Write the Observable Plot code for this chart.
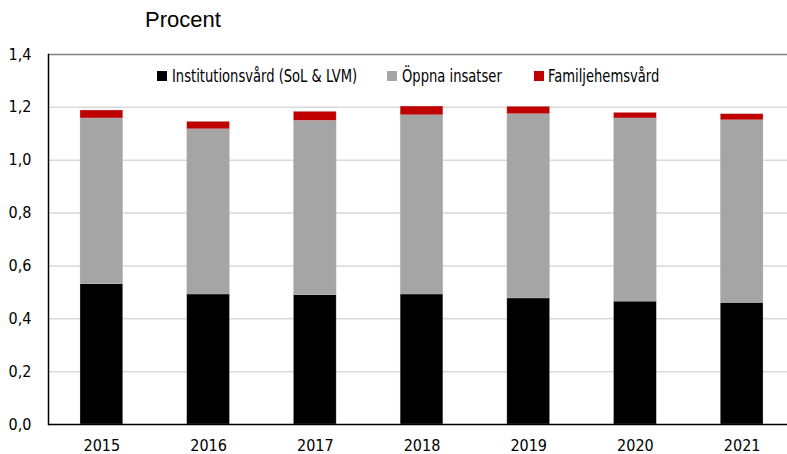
<!DOCTYPE html>
<html>
<head>
<meta charset="utf-8">
<script src="https://cdn.jsdelivr.net/npm/d3@7"></script>
<script src="https://cdn.jsdelivr.net/npm/@observablehq/plot@0.6"></script>
<style>
  html, body { margin: 0; padding: 0; background: #fff; }
  #wrap { position: relative; width: 787px; height: 454px; overflow: hidden; font-family: "DejaVu Sans Condensed", "Liberation Sans", sans-serif; }
  #title { position: absolute; left: 145px; top: 7px; font-family: "Liberation Sans", sans-serif; font-size: 22px; color: #000; }
  .lg-sw { position: absolute; top: 71px; width: 10px; height: 10px; }
  .lg-tx { position: absolute; top: 64px; font-size: 18px; line-height: 24px; white-space: nowrap; transform: scaleX(0.81); transform-origin: left center; color: #000; }
</style>
</head>
<body>
<div id="wrap">
  <div id="chart"></div>
  <div id="title">Procent</div>
  <div id="legend"></div>
</div>
<script>
const years = ["2015", "2016", "2017", "2018", "2019", "2020", "2021"];
const seriesNames = ["Institutionsvård (SoL & LVM)", "Öppna insatser", "Familjehemsvård"];
const seriesColors = ["#000000", "#a5a5a5", "#c00000"];
const institution = [0.531, 0.492, 0.489, 0.492, 0.477, 0.465, 0.460];
const oppna = [0.627, 0.625, 0.660, 0.678, 0.697, 0.693, 0.691];
const familj = [0.030, 0.028, 0.034, 0.033, 0.028, 0.021, 0.023];
const yTicks = [0, 0.2, 0.4, 0.6, 0.8, 1.0, 1.2, 1.4];

const seriesValues = [institution, oppna, familj];
const data = [];
seriesNames.forEach((s, si) => {
  years.forEach((y, yi) => data.push({year: y, series: s, value: seriesValues[si][yi]}));
});

const fmt = d => d.toFixed(1).replace(".", ",");

const chart = Plot.plot({
  width: 787,
  height: 454,
  marginLeft: 48,
  marginRight: 0,
  marginTop: 54,
  marginBottom: 30,
  style: {fontFamily: '"DejaVu Sans Condensed", "Liberation Sans", sans-serif', fontSize: "16px", color: "#000", background: "#fff"},
  x: {domain: years, range: [48, 795], paddingInner: 0.6, paddingOuter: 0.3, round: false, label: null},
  y: {domain: [0, 1.4], label: null},
  color: {domain: seriesNames, range: seriesColors},
  marks: [
    Plot.ruleY(yTicks.filter(d => d > 0 && d < 1.4), {stroke: "#d9d9d9", strokeWidth: 1.5}),
    Plot.ruleY([1.4], {stroke: "#7f7f7f", strokeWidth: 1.5}),
    Plot.barY(data, {x: "year", y: "value", fill: "series", order: seriesNames, stroke: "#c8c8c8", strokeWidth: 0.5, strokeOpacity: 0.6}),
    Plot.ruleY([0], {stroke: "#000", strokeWidth: 1.5}),
    Plot.axisY({ticks: yTicks, tickFormat: fmt, tickSize: 0, tickPadding: 17, fontSize: 16}),
    Plot.axisX({tickSize: 0, tickPadding: 15, fontSize: 16}),
    Plot.frame({anchor: "left", stroke: "#000", strokeWidth: 1.5})
  ]
});
document.getElementById("chart").appendChild(chart);

const legend = document.getElementById("legend");
const swX = [157, 387, 534];
const txX = [172, 402, 548];
seriesNames.forEach((s, i) => {
  const sw = document.createElement("div");
  sw.className = "lg-sw";
  sw.style.left = swX[i] + "px";
  sw.style.background = seriesColors[i];
  const t = document.createElement("div");
  t.className = "lg-tx";
  t.style.left = txX[i] + "px";
  t.textContent = s;
  legend.appendChild(sw);
  legend.appendChild(t);
});
</script>
</body>
</html>
